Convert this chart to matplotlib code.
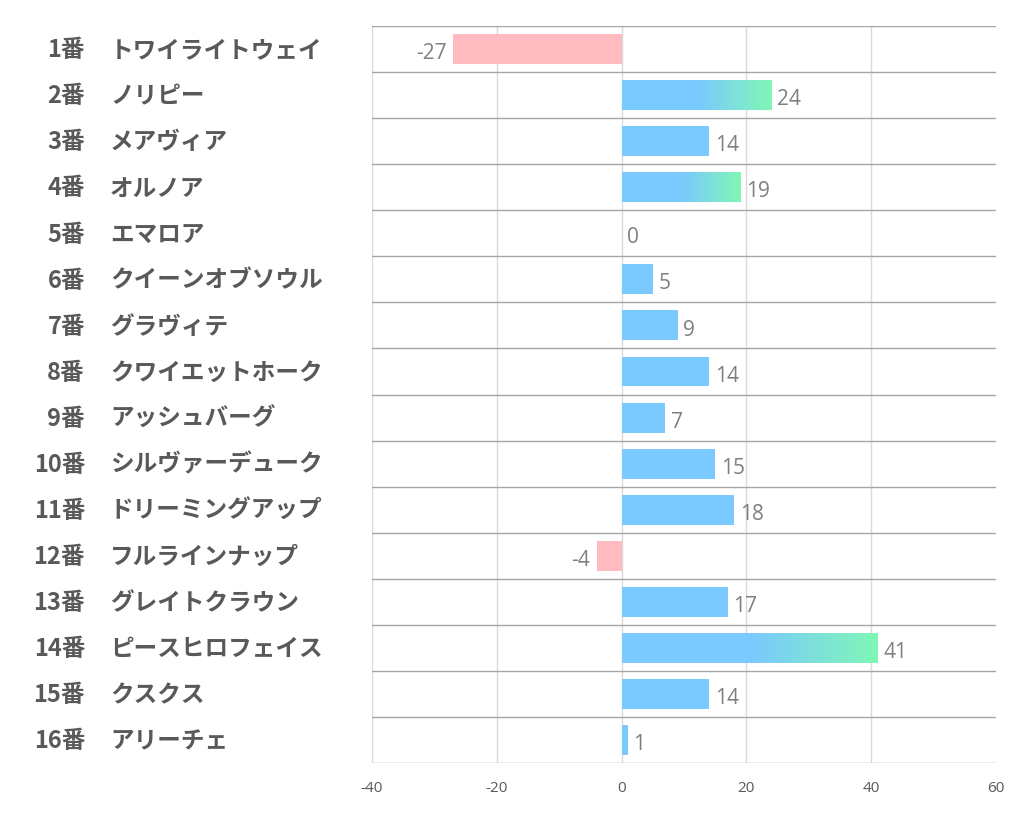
import matplotlib
matplotlib.use("Agg")
import matplotlib.pyplot as plt
import numpy as np
from matplotlib.colors import LinearSegmentedColormap

numbers = [f"{i}番" for i in range(1, 17)]
names = ["トワイライトウェイ", "ノリピー", "メアヴィア", "オルノア", "エマロア",
         "クイーンオブソウル", "グラヴィテ", "クワイエットホーク", "アッシュバーグ",
         "シルヴァーデューク", "ドリーミングアップ", "フルラインナップ", "グレイトクラウン",
         "ピースヒロフェイス", "クスクス", "アリーチェ"]
values = [-27, 24, 14, 19, 0, 5, 9, 14, 7, 15, 18, -4, 17, 41, 14, 1]
xticks = [-40, -20, 0, 20, 40, 60]

BLUE = "#7AC9FF"
GREEN = "#80F7B6"
PINK = "#FFBBBF"
TOP_N = 3

fig = plt.figure(figsize=(10.22, 8.34), dpi=100)
ax = fig.add_axes([0.364, 0.0851, 0.9746 - 0.364, 0.9688 - 0.0851])

n = len(values)
ys = np.arange(n)
h = 0.65
colors = [BLUE if v >= 0 else PINK for v in values]
ax.barh(ys, values, height=h, color=colors, zorder=3)

cmap = LinearSegmentedColormap.from_list("bg", [BLUE, GREEN])
grad = np.linspace(0, 1, 256).reshape(1, -1)
top = sorted([v for v in values if v > 0], reverse=True)[:TOP_N]
for y, v in zip(ys, values):
    if v in top:
        ax.imshow(grad, cmap=cmap, aspect="auto", interpolation="bicubic",
                  extent=[0.5 * v, v, y + h / 2, y - h / 2], zorder=4)

lab_font = ["Open Sans", "DejaVu Sans"]
for y, v in zip(ys, values):
    if v < 0:
        ax.text(v - 1.1, y + 0.1, f"{v}", ha="right", va="center",
                fontsize=15, color="#7F7F7F", family=lab_font)
    else:
        ax.text(v + 0.9, y + 0.1, f"{v}", ha="left", va="center",
                fontsize=15, color="#7F7F7F", family=lab_font)

ax.set_xlim(-40, 60)
ax.set_ylim(n - 0.5, -0.5)
ax.set_xticks(xticks)
ax.set_xticklabels([str(t) for t in xticks], fontsize=11, color="#595959",
                   family=lab_font)
ax.tick_params(axis="x", length=0, pad=13)
ax.set_yticks([])

for xv in xticks[:-1]:
    ax.axvline(xv, color="#D9D9D9", lw=1, zorder=1)
for b in np.arange(n + 1) - 0.5:
    ax.axhline(b, color="#A6A6A6", lw=1, zorder=2)

for s in ax.spines.values():
    s.set_visible(False)

jp_font = ["Noto Sans CJK JP", "DejaVu Sans"]
for y, num, name in zip(ys, numbers, names):
    yf = ax.transData.transform((0, y))[1]
    yfig = fig.transFigure.inverted().transform((0, yf))[1]
    fig.text(85 / 1022, yfig - 0.0015, num, ha="right", va="center", fontsize=17,
             fontweight="bold", color="#595959", family=jp_font)
    fig.text(110 / 1022, yfig - 0.0015, name, ha="left", va="center", fontsize=17,
             fontweight="bold", color="#595959", family=jp_font)

fig.savefig("out.png", dpi=100, facecolor="white")
